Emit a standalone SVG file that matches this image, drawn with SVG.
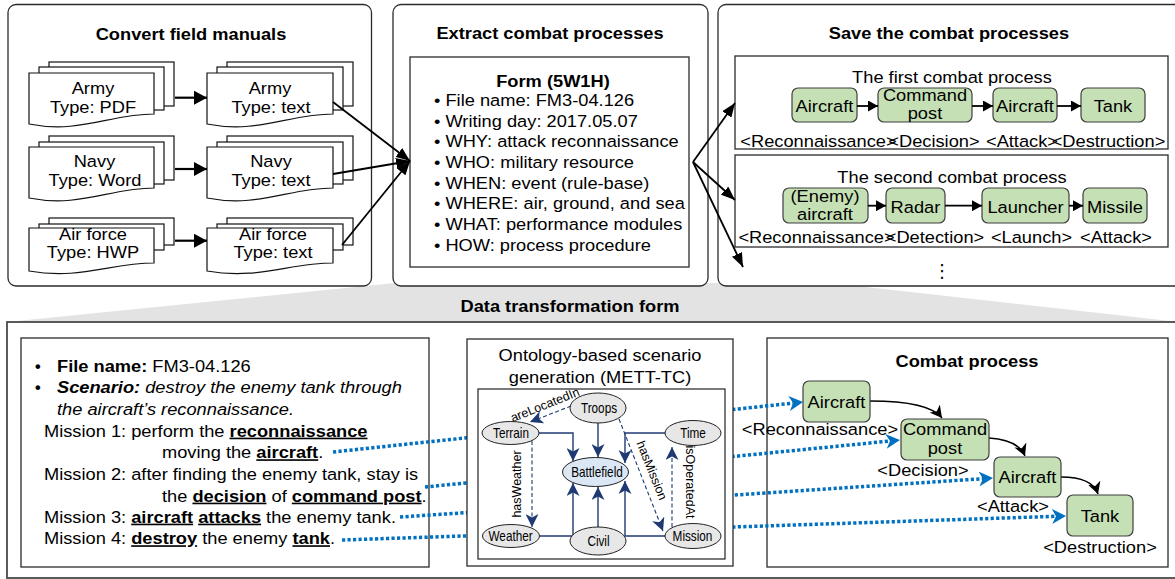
<svg xmlns="http://www.w3.org/2000/svg" width="1175" height="579" viewBox="0 0 1175 579">
<style>
text{font-family:"Liberation Sans",Arial,sans-serif;fill:#000;font-size:16.3px}
.b{font-weight:bold}
.c{text-anchor:middle}
.sc{transform-box:fill-box;transform-origin:50% 50%;transform:scaleX(1.12)}
.sl{transform-box:fill-box;transform-origin:0% 50%;transform:scaleX(1.12)}
.on{font-size:14px;text-anchor:middle;transform-box:fill-box;transform-origin:50% 50%;transform:scaleX(0.84)}
.el{font-size:12.5px;text-anchor:middle}
.panel{fill:#fff;stroke:#2b2b2b;stroke-width:1.3}
.box{fill:#fff;stroke:#2b2b2b;stroke-width:1.3}
.doc{fill:#fff;stroke:#111;stroke-width:1.2}
.g{fill:#c5e0b4;stroke:#3f3f3f;stroke-width:1.2}
.ell{fill:#e7e7e7;stroke:#222;stroke-width:1}
.bf{fill:#dbe7f5}
.ar{fill:none;stroke:#000;stroke-width:2.2}
.ar2{fill:none;stroke:#000;stroke-width:1.8}
.nv{fill:none;stroke:#1f3a73;stroke-width:1.4}
.nvd{fill:none;stroke:#1f3a73;stroke-width:1.1;stroke-dasharray:4 2.5}
.bl{fill:none;stroke:#0070c0;stroke-width:3.5;stroke-dasharray:3.2 2.3}
.cv{fill:none;stroke:#000;stroke-width:1.5}
.u{text-decoration:underline}
</style>
<defs>
<marker id="tri" markerUnits="userSpaceOnUse" markerWidth="13" markerHeight="14" refX="13" refY="7" orient="auto"><path d="M0,0 L13,7 L0,14 Z" fill="#000"/></marker>
<marker id="tri2" markerUnits="userSpaceOnUse" markerWidth="14" markerHeight="11" refX="14" refY="5.5" orient="auto"><path d="M0,0 L14,5.5 L0,11 Z" fill="#000"/></marker>
<marker id="tri3" markerUnits="userSpaceOnUse" markerWidth="10" markerHeight="11" refX="10" refY="5.5" orient="auto"><path d="M0,0 L10,5.5 L0,11 Z" fill="#000"/></marker>
<marker id="nvm" markerUnits="userSpaceOnUse" markerWidth="13" markerHeight="13" refX="13" refY="6.5" orient="auto"><path d="M0,0 L13,6.5 L0,13 L3.5,6.5 Z" fill="#1f3a73"/></marker>
<marker id="blm" markerUnits="userSpaceOnUse" markerWidth="15" markerHeight="15" refX="4" refY="7.5" orient="auto"><path d="M0,0 L14,7.5 L0,15 L4,7.5 Z" fill="#0070c0"/></marker>
<marker id="cvm" markerUnits="userSpaceOnUse" markerWidth="12" markerHeight="13" refX="12" refY="6.5" orient="auto"><path d="M0,0 L12,6.5 L0,13 L3.5,6.5 Z" fill="#000"/></marker>
</defs>

<polygon points="395,283 830,283 1180,322 7,322" fill="#e3e3e3"/>

<g id="panel-convert">
<rect class="panel" x="8" y="4.5" width="363.5" height="281.5" rx="8"/>
<text class="b c sc" x="191" y="40">Convert field manuals</text>
<g id="doc-army-pdf">
<rect class="doc" x="49" y="62" width="125" height="44"/>
<rect class="doc" x="39" y="67" width="125" height="43"/>
<path class="doc" d="M29,73 H154 V114 C110,114 80,134 29,124 Z"/>
<text class="c sc" x="93" y="94">Army</text>
<text class="c sc" x="93" y="112.7">Type: PDF</text>
</g>
<g id="doc-army-text">
<rect class="doc" x="227" y="62" width="126" height="44"/>
<rect class="doc" x="217" y="67" width="126" height="43"/>
<path class="doc" d="M207,73 H333 V114 C289,114 258,134 207,124 Z"/>
<text class="c sc" x="270" y="94">Army</text>
<text class="c sc" x="271" y="112.7">Type: text</text>
</g>
<g id="doc-navy-word">
<rect class="doc" x="49" y="136" width="125" height="44"/>
<rect class="doc" x="39" y="142" width="125" height="42"/>
<path class="doc" d="M29,147 H154 V188 C110,188 80,208 29,198 Z"/>
<text class="c sc" x="94.5" y="166.7">Navy</text>
<text class="c sc" x="95" y="185.7">Type: Word</text>
</g>
<g id="doc-navy-text">
<rect class="doc" x="227" y="136" width="126" height="44"/>
<rect class="doc" x="217" y="142" width="126" height="42"/>
<path class="doc" d="M207,147 H333 V188 C289,188 258,208 207,198 Z"/>
<text class="c sc" x="271" y="166.7">Navy</text>
<text class="c sc" x="271" y="185.7">Type: text</text>
</g>
<g id="doc-airforce-hwp">
<rect class="doc" x="49" y="218" width="125" height="27"/>
<rect class="doc" x="39" y="224" width="125" height="26"/>
<path class="doc" d="M29,228 H154 V263 C110,263 80,280 29,271 Z"/>
<text class="c sc" x="93" y="240">Air force</text>
<text class="c sc" x="93" y="258.3">Type: HWP</text>
</g>
<g id="doc-airforce-text">
<rect class="doc" x="227" y="218" width="126" height="27"/>
<rect class="doc" x="217" y="224" width="126" height="26"/>
<path class="doc" d="M207,228 H333 V263 C289,263 258,280 207,271 Z"/>
<text class="c sc" x="273" y="240">Air force</text>
<text class="c sc" x="273" y="258.3">Type: text</text>
</g>
</g>

<g id="panel-extract">
<rect class="panel" x="393" y="4.5" width="315" height="281.5" rx="8"/>
<text class="b c sc" x="550" y="39">Extract combat processes</text>
<g id="form-5w1h">
<rect class="box" x="410" y="57" width="279" height="210"/>
<text class="b c sc" x="553" y="87">Form (5W1H)</text>
<text class="sl" x="434" y="106">• File name: FM3-04.126</text>
<text class="sl" x="434" y="126.7">• Writing day: 2017.05.07</text>
<text class="sl" x="434" y="147.3">• WHY: attack reconnaissance</text>
<text class="sl" x="434" y="168">• WHO: military resource</text>
<text class="sl" x="434" y="188.7">• WHEN: event (rule-base)</text>
<text class="sl" x="434" y="209.3">• WHERE: air, ground, and sea</text>
<text class="sl" x="434" y="230">• WHAT: performance modules</text>
<text class="sl" x="434" y="250.7">• HOW: process procedure</text>
</g>
</g>

<g id="panel-save">
<rect class="panel" x="718" y="4.5" width="470" height="281.5" rx="8"/>
<text class="b c sc" x="949" y="39">Save the combat processes</text>
<g id="first-process">
<rect class="box" x="735" y="56" width="433" height="93"/>
<text class="c sc" x="952" y="83.3">The first combat process</text>
<g id="p1-aircraft"><rect class="g" x="792" y="88" width="65" height="34" rx="6"/><text class="c sc" x="824.5" y="111.7">Aircraft</text></g>
<g id="p1-command-post"><rect class="g" x="878" y="88" width="94" height="34" rx="6"/><text class="c sc" x="925" y="100.7">Command</text><text class="c sc" x="925" y="119">post</text></g>
<g id="p1-aircraft2"><rect class="g" x="993" y="88" width="64" height="34" rx="6"/><text class="c sc" x="1025" y="111.7">Aircraft</text></g>
<g id="p1-tank"><rect class="g" x="1081" y="88" width="64" height="34" rx="6"/><text class="c sc" x="1113" y="111.7">Tank</text></g>
<text class="c sc" x="818.5" y="146.7">&lt;Reconnaissance&gt;</text>
<text class="c sc" x="934" y="146.7">&lt;Decision&gt;</text>
<text class="c sc" x="1022" y="146.7">&lt;Attack&gt;</text>
<text class="c sc" x="1108.5" y="146.7">&lt;Destruction&gt;</text>
</g>
<g id="second-process">
<rect class="box" x="735" y="155" width="433" height="92"/>
<text class="c sc" x="952" y="182.7">The second combat process</text>
<g id="p2-enemy-aircraft"><rect class="g" x="783" y="188" width="85" height="35" rx="6"/><text class="c sc" x="825" y="201.7">(Enemy)</text><text class="c sc" x="825" y="220">aircraft</text></g>
<g id="p2-radar"><rect class="g" x="886" y="188" width="59" height="35" rx="6"/><text class="c sc" x="915.5" y="212.7">Radar</text></g>
<g id="p2-launcher"><rect class="g" x="982" y="188" width="87" height="35" rx="6"/><text class="c sc" x="1025.5" y="212.7">Launcher</text></g>
<g id="p2-missile"><rect class="g" x="1083" y="188" width="64" height="35" rx="6"/><text class="c sc" x="1115" y="212.7">Missile</text></g>
<text class="c sc" x="816.5" y="243.3">&lt;Reconnaissance&gt;</text>
<text class="c sc" x="935" y="243.3">&lt;Detection&gt;</text>
<text class="c sc" x="1031.5" y="243.3">&lt;Launch&gt;</text>
<text class="c sc" x="1116" y="243.3">&lt;Attack&gt;</text>
</g>
<text class="c" x="942" y="277" style="font-family:'DejaVu Sans',sans-serif;font-size:18px">⋮</text>
</g>

<g id="data-transformation-form">
<rect x="7" y="322" width="1180" height="256" fill="#fff" stroke="#4a4a4a" stroke-width="1.8"/>
<text class="b c sc" x="570" y="311.7">Data transformation form</text>
</g>

<g id="scenario-text">
<rect class="box" x="21" y="338" width="408" height="229"/>
<text class="b" x="35" y="371.7">•</text>
<text class="sl" x="57" y="371.7"><tspan class="b">File name:</tspan> FM3-04.126</text>
<text class="b" x="35" y="393.3">•</text>
<text class="sl" x="57" y="393.3" font-style="italic"><tspan class="b">Scenario:</tspan> destroy the enemy tank through</text>
<text class="sl" x="57" y="415" font-style="italic">the aircraft’s reconnaissance.</text>
<text class="sl" x="44" y="436.7">Mission 1: perform the <tspan class="b u">reconnaissance</tspan></text>
<text class="sl" x="162" y="458.3">moving the <tspan class="b u">aircraft</tspan>.</text>
<text class="sl" x="44" y="480">Mission 2: after finding the enemy tank, stay is</text>
<text class="sl" x="162" y="501.7">the <tspan class="b u">decision</tspan> of <tspan class="b u">command post</tspan>.</text>
<text class="sl" x="44" y="522.7">Mission 3: <tspan class="b u">aircraft</tspan> <tspan class="b u">attacks</tspan> the enemy tank.</text>
<text class="sl" x="44" y="544.3">Mission 4: <tspan class="b u">destroy</tspan> the enemy <tspan class="b u">tank</tspan>.</text>
</g>

<g id="combat-process">
<rect class="box" x="767" y="338" width="401" height="229"/>
<text class="b c sc" x="967" y="366.7">Combat process</text>
<text class="c sc" x="820" y="435">&lt;Reconnaissance&gt;</text>
<text class="c sc" x="923" y="476">&lt;Decision&gt;</text>
<text class="c sc" x="1013" y="512.3">&lt;Attack&gt;</text>
<text class="c sc" x="1100" y="553.3">&lt;Destruction&gt;</text>
</g>

<g id="connectors">
<path class="ar" d="M175,97.7 H207" marker-end="url(#tri)"/>
<path class="ar" d="M175,169 H207" marker-end="url(#tri)"/>
<path class="ar" d="M175,240.7 H207" marker-end="url(#tri)"/>
<path class="ar2" d="M333,102 L410,161" marker-end="url(#tri2)"/>
<path class="ar2" d="M333,174 L410,161" marker-end="url(#tri2)"/>
<path class="ar2" d="M342,245 L410,161" marker-end="url(#tri2)"/>
<path class="ar2" d="M693,162 L735,103" marker-end="url(#tri2)"/>
<path class="ar2" d="M693,162 L735,200" marker-end="url(#tri2)"/>
<path class="ar2" d="M693,162 L743,267" marker-end="url(#tri2)"/>
<path class="ar2" d="M857,106 H878" marker-end="url(#tri3)"/>
<path class="ar2" d="M972,106 H993" marker-end="url(#tri3)"/>
<path class="ar2" d="M1057,106 H1081" marker-end="url(#tri3)"/>
<path class="ar2" d="M868,205.7 H886" marker-end="url(#tri3)"/>
<path class="ar2" d="M945,205.7 H982" marker-end="url(#tri3)"/>
<path class="ar2" d="M1069,205.7 H1083" marker-end="url(#tri3)"/>
<path class="bl" d="M333,452 L793.1,403.1" marker-end="url(#blm)"/>
<path class="bl" d="M425,487 L890,441" marker-end="url(#blm)"/>
<path class="bl" d="M400,517 L983,478.7" marker-end="url(#blm)"/>
<path class="bl" d="M342,540 L1056,516.3" marker-end="url(#blm)"/>
<path class="cv" d="M870,401 C905,401 932,405 942,418" marker-end="url(#cvm)"/>
<path class="cv" d="M989,438 C1005,439 1020,444 1025,456" marker-end="url(#cvm)"/>
<path class="cv" d="M1061,477 C1080,477 1094,482 1098,494" marker-end="url(#cvm)"/>
</g>

<g id="combat-nodes">
<g id="cp-aircraft"><rect class="g" x="803" y="381" width="67" height="41" rx="6"/><text class="c sc" x="836.5" y="407.7">Aircraft</text></g>
<g id="cp-command-post"><rect class="g" x="901" y="419" width="88" height="41" rx="6"/><text class="c sc" x="945" y="435">Command</text><text class="c sc" x="945" y="454">post</text></g>
<g id="cp-aircraft2"><rect class="g" x="994" y="457" width="67" height="40" rx="6"/><text class="c sc" x="1027.5" y="483.3">Aircraft</text></g>
<g id="cp-tank"><rect class="g" x="1067" y="495" width="66" height="41" rx="6"/><text class="c sc" x="1100" y="521.7">Tank</text></g>
</g>

<g id="ontology">
<rect class="box" x="467" y="339" width="266" height="227"/>
<text class="c sc" x="600" y="360.7">Ontology-based scenario</text>
<text class="c sc" x="600" y="383.3">generation (METT-TC)</text>
<rect fill="#fff" stroke="#222" stroke-width="1.2" x="478" y="389" width="247" height="170"/>
<g id="ontology-connectors">
<path class="nv" d="M539,433 H573 V461" marker-end="url(#nvm)"/>
<path class="nv" d="M598,423 V457" marker-end="url(#nvm)"/>
<path class="nv" d="M665,433 H625 V463" marker-end="url(#nvm)"/>
<path class="nv" d="M540,536 H573 V483" marker-end="url(#nvm)"/>
<path class="nv" d="M598,527 V487" marker-end="url(#nvm)"/>
<path class="nv" d="M665,536 H625 V481" marker-end="url(#nvm)"/>
<path class="nvd" d="M571,406 L530,422" marker-end="url(#nvm)"/>
<path class="nvd" d="M532,441 V527" marker-end="url(#nvm)"/>
<path class="nvd" d="M619,419 L663,531" marker-end="url(#nvm)"/>
<path class="nvd" d="M672,527 V447" marker-end="url(#nvm)"/>
<text class="el" transform="translate(546.5,408.7) rotate(-22)">areLocatedIn</text>
<text class="el" transform="translate(521,484) rotate(-90)">hasWeather</text>
<text class="el" transform="translate(648,472) rotate(68)">hasMission</text>
<text class="el" transform="translate(686,482) rotate(90)">isOperatedAt</text>
</g>
<g id="o-troops"><ellipse class="ell" cx="598" cy="408" rx="28" ry="15"/><text class="on" x="599" y="412.8">Troops</text></g>
<g id="o-terrain"><ellipse class="ell" cx="510.5" cy="433" rx="28.5" ry="11.5"/><text class="on" x="511" y="438">Terrain</text></g>
<g id="o-time"><ellipse class="ell" cx="693" cy="433" rx="28" ry="12.5"/><text class="on" x="693" y="438">Time</text></g>
<g id="o-battlefield"><ellipse class="ell bf" cx="595.5" cy="472" rx="33" ry="14.5"/><text class="on" x="597" y="477">Battlefield</text></g>
<g id="o-weather"><ellipse class="ell" cx="511" cy="536" rx="28.5" ry="11.5"/><text class="on" x="510.5" y="541">Weather</text></g>
<g id="o-civil"><ellipse class="ell" cx="598" cy="541" rx="28" ry="14"/><text class="on" x="598.5" y="545.8">Civil</text></g>
<g id="o-mission"><ellipse class="ell" cx="693" cy="536" rx="28" ry="12.5"/><text class="on" x="692.5" y="541">Mission</text></g>
</g>
</svg>
